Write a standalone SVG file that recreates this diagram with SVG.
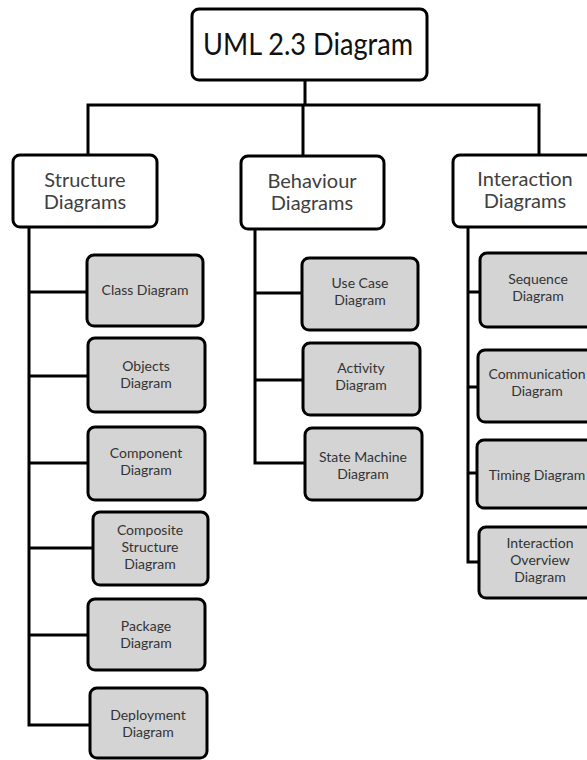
<svg xmlns="http://www.w3.org/2000/svg" width="587" height="760" viewBox="0 0 587 760">
<style>
.top{fill:#fff;stroke:#000;stroke-width:3}
.hd{fill:#fff;stroke:#000;stroke-width:3}
.ch{fill:#d4d4d4;stroke:#000;stroke-width:3}
.ln{fill:none;stroke:#000;stroke-width:3}
text{font-family:Lato,"Liberation Sans",sans-serif;text-anchor:middle}
.t1{font-size:31px;fill:#111}
.t2{font-size:20px;fill:#404040}
.t3{font-size:14px;fill:#333}
</style>
<rect width="587" height="760" fill="#fff"/>
<g id="connectors">
<path class="ln" d="M305 80V105M88 155V105H539V155M303 105V156"/>
<path class="ln" d="M29 227V725H90M29 292H87M29 376H88M29 463H88M29 548H93M29 635H88"/>
<path class="ln" d="M255 229V463H305M255 293H302M255 380H303"/>
<path class="ln" d="M468 227V562H479M468 292H480M468 387H478M468 473H477"/>
</g>
<g id="uml"><rect class="top" x="192" y="9" width="235" height="71" rx="7"/><text class="t1" x="308" y="55" textLength="210" lengthAdjust="spacingAndGlyphs">UML 2.3 Diagram</text></g>
<g id="structure"><rect class="hd" x="13" y="155" width="144" height="72" rx="7"/><text class="t2" x="85" y="187">Structure</text><text class="t2" x="85" y="209">Diagrams</text></g>
<g id="behaviour"><rect class="hd" x="241" y="156" width="143" height="73" rx="7"/><text class="t2" x="312" y="188">Behaviour</text><text class="t2" x="312" y="210">Diagrams</text></g>
<g id="interaction"><rect class="hd" x="453" y="155" width="150" height="72" rx="7"/><text class="t2" x="525" y="186">Interaction</text><text class="t2" x="525" y="208">Diagrams</text></g>
<g id="class"><rect class="ch" x="87" y="255" width="116" height="71" rx="7"/><text class="t3" x="145" y="295">Class Diagram</text></g>
<g id="objects"><rect class="ch" x="88" y="338" width="117" height="74" rx="7"/><text class="t3" x="146" y="371">Objects</text><text class="t3" x="146" y="388">Diagram</text></g>
<g id="component"><rect class="ch" x="88" y="427" width="117" height="73" rx="7"/><text class="t3" x="146" y="458">Component</text><text class="t3" x="146" y="475">Diagram</text></g>
<g id="composite"><rect class="ch" x="93" y="512" width="115" height="73" rx="7"/><text class="t3" x="150" y="535">Composite</text><text class="t3" x="150" y="552">Structure</text><text class="t3" x="150" y="569">Diagram</text></g>
<g id="package"><rect class="ch" x="88" y="599" width="117" height="71" rx="7"/><text class="t3" x="146" y="631">Package</text><text class="t3" x="146" y="648">Diagram</text></g>
<g id="deployment"><rect class="ch" x="90" y="688" width="117" height="70" rx="7"/><text class="t3" x="148" y="720">Deployment</text><text class="t3" x="148" y="737">Diagram</text></g>
<g id="usecase"><rect class="ch" x="302" y="258" width="116" height="72" rx="7"/><text class="t3" x="360" y="288">Use Case</text><text class="t3" x="360" y="305">Diagram</text></g>
<g id="activity"><rect class="ch" x="303" y="343" width="117" height="72" rx="7"/><text class="t3" x="361" y="373">Activity</text><text class="t3" x="361" y="390">Diagram</text></g>
<g id="statemachine"><rect class="ch" x="305" y="428" width="117" height="72" rx="7"/><text class="t3" x="363" y="462">State Machine</text><text class="t3" x="363" y="479">Diagram</text></g>
<g id="sequence"><rect class="ch" x="480" y="253" width="120" height="74" rx="7"/><text class="t3" x="538" y="284">Sequence</text><text class="t3" x="538" y="301">Diagram</text></g>
<g id="communication"><rect class="ch" x="478" y="350" width="122" height="72" rx="7"/><text class="t3" x="537" y="379">Communication</text><text class="t3" x="537" y="396">Diagram</text></g>
<g id="timing"><rect class="ch" x="477" y="440" width="123" height="68" rx="7"/><text class="t3" x="537" y="480">Timing Diagram</text></g>
<g id="overview"><rect class="ch" x="479" y="527" width="121" height="71" rx="7"/><text class="t3" x="540" y="548">Interaction</text><text class="t3" x="540" y="565">Overview</text><text class="t3" x="540" y="582">Diagram</text></g>
</svg>
